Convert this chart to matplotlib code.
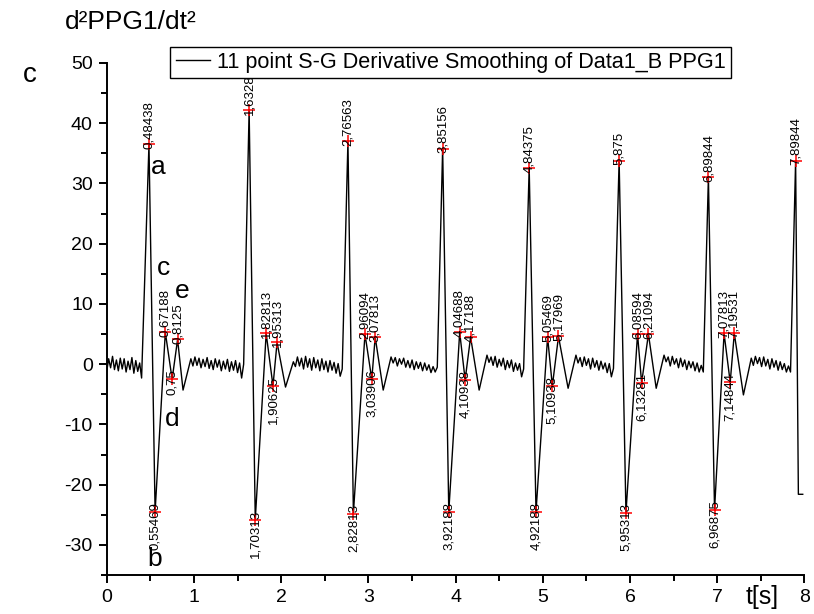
import numpy as np
import matplotlib
matplotlib.use('Agg')
import matplotlib.pyplot as plt
from matplotlib.ticker import MultipleLocator

plt.rcParams['font.family'] = ['Liberation Sans', 'DejaVu Sans']
plt.rcParams['axes.unicode_minus'] = False

# characteristic points of the second derivative (time [s], amplitude)
a_t = [0.48438, 1.63281, 2.76563, 3.85156, 4.84375, 5.875, 6.89844, 7.89844]
a_v = [36.5, 42.2, 37.0, 35.8, 32.6, 33.8, 31.0, 33.8]
b_t = [0.55469, 1.70313, 2.82813, 3.92188, 4.92188, 5.95313, 6.96875]
b_v = [-24.5, -25.8, -24.8, -24.5, -24.5, -24.7, -24.2]
c_t = [0.67188, 1.82813, 2.96094, 4.04688, 5.05469, 6.08594, 7.07813]
c_v = [5.3, 5.1, 5.0, 5.3, 4.5, 5.0, 5.1]
d_t = [0.75, 1.90625, 3.03906, 4.10938, 5.10938, 6.13281, 7.14844]
d_v = [-2.5, -3.6, -2.5, -2.6, -3.6, -3.1, -3.0]
e_t = [0.8125, 1.95313, 3.07813, 4.17188, 5.17969, 6.21094, 7.19531]
e_v = [4.1, 3.6, 4.5, 4.5, 4.6, 5.0, 5.1]

# dip after the e wave
trough_t = [0.875, 2.05, 3.17, 4.27, 5.29, 6.30, 7.30]
trough_v = [-4.3, -3.8, -4.3, -4.3, -4.0, -4.0, -5.1]

# ripple between beats
ripple_start = [0.0, 0.965, 2.14, 3.26, 4.36, 5.38, 6.39, 7.39]
ripple_end = [0.40, 1.57, 2.70, 3.79, 4.78, 5.81, 6.84, 7.84]
ripple = [
    [-1.2, 0.9, -0.6, 1.3, -0.9, 0.7, -1.1, 1.0, -0.8, 0.9, -1.3, 0.5, -0.9, 1.1, -1.5, 0.6, -1.2, 0.2, -2.3],
    [0.9, -0.3, 1.2, -0.2, 1.0, -0.6, 0.8, -0.4, 1.1, -0.7, 0.6, -0.9, 0.9, -0.5, 0.7, -1.1, 0.5, -0.8,
     0.8, -1.2, 0.4, -1.0, 0.6, -1.4, 0.2, -2.3, 0.0],
    [0.4, -0.4, 1.2, -0.3, 1.0, -0.8, 1.3, -0.5, 0.9, -1.0, 1.1, -0.6, 0.7, -1.1, 0.9, -0.9, 0.5, -1.3,
     0.6, -1.0, 0.3, -1.5, 0.1, -2.0, -0.8],
    [1.2, 0.2, 1.1, -0.3, 0.9, 0.0, 1.0, -0.5, 0.6, -0.6, 0.7, -0.9, 0.4, -0.7, 0.3, -1.1, 0.2, -1.0,
     -0.1, -1.4, -0.4, -1.3, -0.5],
    [1.5, 0.3, 1.2, -0.2, 1.3, -0.5, 0.8, -0.3, 1.0, -0.9, 0.6, -0.6, 0.7, -1.2, 0.2, -1.0, 0.1, -2.1, -0.8],
    [1.5, 0.2, 1.1, -0.4, 1.2, -0.2, 0.9, -0.8, 1.0, -0.5, 0.6, -1.0, 0.5, -0.8, 0.2, -1.4, 0.1, -2.1, -0.7],
    [1.5, 0.4, 1.2, -0.3, 1.3, 0.0, 0.9, -0.6, 1.0, -0.4, 0.7, -0.9, 0.5, -0.6, 0.4, -1.1, 0.2, -1.3, -0.2, -1.3],
    [1.0, -0.2, 1.3, 0.1, 1.1, -0.4, 1.2, -0.3, 0.8, -0.8, 0.9, -0.5, 0.6, -1.0, 0.4, -0.9, 0.1, -1.3, -0.3, -1.3],
]
# end of record after last peak
tail_t = [7.93, 7.98]
tail_v = [-21.6, -21.6]

# assemble the trace
t_trace, y_trace = [], []
for k in range(len(a_t)):
    seg = ripple[k]
    t_trace += list(np.linspace(ripple_start[k], ripple_end[k], len(seg)))
    y_trace += seg
    t_trace.append(a_t[k])
    y_trace.append(a_v[k])
    if k < len(b_t):
        t_trace += [b_t[k], c_t[k], d_t[k], e_t[k], trough_t[k]]
        y_trace += [b_v[k], c_v[k], d_v[k], e_v[k], trough_v[k]]
t_trace += tail_t
y_trace += tail_v

fig = plt.figure(figsize=(8.14, 6.14), dpi=100)
ax = fig.add_axes([0.1311, 0.0635, 0.8572, 0.8339])

line, = ax.plot(t_trace, y_trace, color='black', lw=1.0)

# red crosses + rotated time labels
peaks_t = a_t + c_t + e_t
peaks_v = a_v + c_v + e_v
valleys_t = b_t + d_t
valleys_v = b_v + d_v
ax.plot(peaks_t + valleys_t, peaks_v + valleys_v, '+', color='red', ms=9, mew=1.1, zorder=3)

def fmt(v):
    return ('%g' % v).replace('.', ',')

for t, v in zip(peaks_t, peaks_v):
    ax.annotate(fmt(t), (t, v), xytext=(0, -3.5), textcoords='offset points',
                rotation=90, ha='center', va='bottom', fontsize=9.5, annotation_clip=False)
for t, v in zip(valleys_t, valleys_v):
    ax.annotate(fmt(t), (t, v), xytext=(0, 7), textcoords='offset points',
                rotation=90, ha='center', va='top', fontsize=9.5, annotation_clip=False)

# wave names on the first beat
wave_names = ['a', 'b', 'c', 'd', 'e']
wave_pos_t = [0.588, 0.554, 0.646, 0.749, 0.865]
wave_pos_v = [32.8, -32.4, 15.9, -9.1, 12.1]
for s, t, v in zip(wave_names, wave_pos_t, wave_pos_v):
    ax.text(t, v, s, fontsize=19, ha='center', va='center')

ax.set_xlim(0, 8)
ax.set_ylim(-35, 50)
ax.xaxis.set_major_locator(MultipleLocator(1))
ax.xaxis.set_minor_locator(MultipleLocator(0.5))
ax.yaxis.set_major_locator(MultipleLocator(10))
ax.yaxis.set_minor_locator(MultipleLocator(5))
ax.spines['top'].set_visible(False)
ax.spines['right'].set_visible(False)
for sp in ('left', 'bottom'):
    ax.spines[sp].set_linewidth(1.4)
ax.tick_params(which='major', direction='out', length=6, width=1.4, labelsize=14, pad=4)
ax.tick_params(which='minor', direction='out', length=4, width=1.4)

leg = ax.legend([line], ['11 point S-G Derivative Smoothing of Data1_B PPG1'],
                loc='upper left', bbox_to_anchor=(0.209, 0.924), bbox_transform=fig.transFigure,
                borderaxespad=0, fancybox=False, framealpha=1, edgecolor='black',
                fontsize=15.6, handlelength=1.6, handletextpad=0.3, borderpad=0.25)
leg.get_frame().set_linewidth(1.0)

fig.text(0.080, 0.964, 'd²PPG1/dt²', fontsize=19, ha='left', va='center')
fig.text(0.037, 0.878, 'c', fontsize=20, ha='center', va='center')
fig.text(0.936, 0.027, 't[s]', fontsize=18, ha='center', va='center')

fig.savefig('out.png', dpi=100)
